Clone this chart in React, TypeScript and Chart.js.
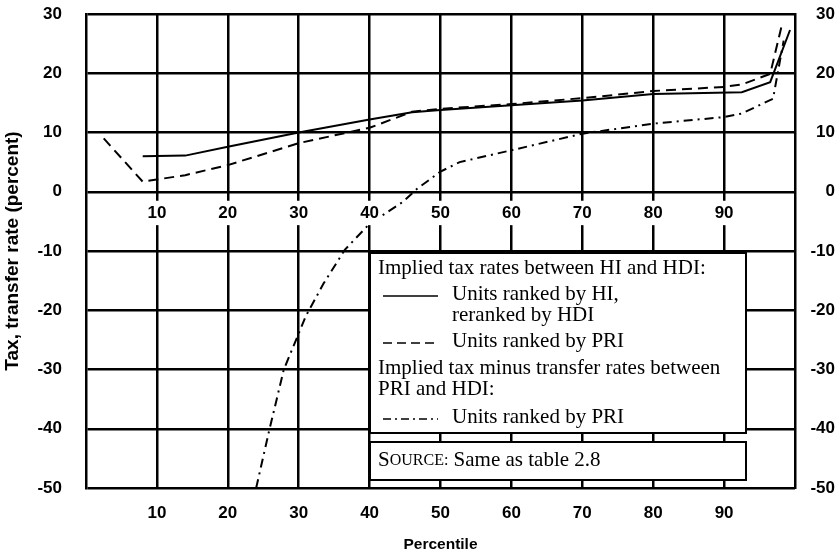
import React, { useEffect, useRef } from 'react';
import { Chart, registerables } from 'chart.js';

Chart.register(...registerables);

// ---- data ----
const hiPercentiles = [8, 14, 20, 30, 40, 46, 50, 60, 70, 80, 92.5, 96.5, 99.3];
const hiRates = [6.0, 6.1, 7.6, 10.0, 12.2, 13.4, 13.8, 14.6, 15.4, 16.5, 16.8, 18.5, 27.3];

const priPercentiles = [2.5, 8, 14, 20, 30, 40, 46, 50, 60, 70, 80, 90, 92.5, 96.5, 98.2];
const priRates = [9.0, 1.7, 2.8, 4.5, 8.2, 10.8, 13.5, 14.0, 14.8, 15.8, 17.0, 17.7, 18.1, 19.9, 28.4];

const netPercentiles = [24, 25.8, 27.9, 29.8, 31, 33.5, 36.5, 40, 44.7, 46.7, 50, 52.7, 60, 70, 80, 90, 92.5, 96.9, 98.4];
const netRates = [-50, -40.5, -30, -24.5, -21, -15.5, -9.8, -5.4, -1.7, 0.5, 3.4, 5.0, 7.0, 9.8, 11.5, 12.6, 13.2, 15.7, 25.5];

const xTickValues = [10, 20, 30, 40, 50, 60, 70, 80, 90];
const yTickValues = [-50, -40, -30, -20, -10, 0, 10, 20, 30];

const xTitle = 'Percentile';
const yTitle = 'Tax, transfer rate (percent)';

const legendHeading1 = 'Implied tax rates between HI and HDI:';
const legendHeading2 = ['Implied tax minus transfer rates between', 'PRI and HDI:'];
const hiLabel = ['Units ranked by HI,', 'reranked by HDI'];
const priLabel = ['Units ranked by PRI'];
const netLabel = ['Units ranked by PRI'];
const sourceLabel = ['S', 'OURCE:', ' Same as table 2.8'];

const toPoints = (xs: number[], ys: number[]) => xs.map((x, i) => ({ x, y: ys[i] }));

const SANS = '"Liberation Sans", Arial, sans-serif';
const SERIF = '"Liberation Serif", "Times New Roman", serif';

const legendPlugin = {
  id: 'bookLegend',
  afterDraw(chart: any) {
    const { ctx } = chart;
    const xs = chart.scales.x;
    const ys = chart.scales.y;
    const left = Math.round(xs.getPixelForValue(40));
    const right = Math.round(xs.getPixelForValue(93.1));
    const top = Math.round(ys.getPixelForValue(-10.4));
    const bottom = Math.round(ys.getPixelForValue(-40.8));
    const sTop = Math.round(ys.getPixelForValue(-42.2));
    const sBottom = Math.round(ys.getPixelForValue(-48.6));

    ctx.save();
    ctx.lineWidth = 2;
    ctx.strokeStyle = '#000';
    ctx.fillStyle = '#fff';
    ctx.fillRect(left, top, right - left, bottom - top);
    ctx.strokeRect(left, top, right - left, bottom - top);
    ctx.fillRect(left, sTop, right - left, sBottom - sTop);
    ctx.strokeRect(left, sTop, right - left, sBottom - sTop);

    ctx.fillStyle = '#000';
    ctx.textBaseline = 'middle';
    ctx.textAlign = 'left';
    ctx.font = `21px ${SERIF}`;
    const tx = left + 8;
    const ix = left + 82;
    ctx.fillText(legendHeading1, tx, top + 15);
    ctx.fillText(hiLabel[0], ix, top + 41);
    ctx.fillText(hiLabel[1], ix, top + 62);
    ctx.fillText(priLabel[0], ix, top + 88);
    ctx.fillText(legendHeading2[0], tx, top + 115);
    ctx.fillText(legendHeading2[1], tx, top + 136);
    ctx.fillText(netLabel[0], ix, top + 164);

    const sample = (y: number, dash: number[]) => {
      ctx.beginPath();
      ctx.setLineDash(dash);
      ctx.lineWidth = 1.5;
      ctx.moveTo(left + 13, y);
      ctx.lineTo(left + 68, y);
      ctx.stroke();
    };
    sample(top + 43, []);
    sample(top + 90, [9, 5]);
    sample(top + 166, [8, 4, 2, 4]);
    ctx.setLineDash([]);

    // source line with small caps
    const sy = sTop + 18;
    let x = tx;
    ctx.font = `21px ${SERIF}`;
    ctx.fillText(sourceLabel[0], x, sy);
    x += ctx.measureText(sourceLabel[0]).width;
    ctx.font = `16px ${SERIF}`;
    ctx.fillText(sourceLabel[1], x, sy + 1);
    x += ctx.measureText(sourceLabel[1]).width;
    ctx.font = `21px ${SERIF}`;
    ctx.fillText(sourceLabel[2], x, sy);
    ctx.restore();
  },
};

const noPad = (s: any) => {
  s.paddingTop = 0;
  s.paddingBottom = 0;
  s.paddingLeft = 0;
  s.paddingRight = 0;
};

export default function App() {
  const ref = useRef<HTMLCanvasElement | null>(null);

  useEffect(() => {
    if (!ref.current) return;
    const tickFont = { family: SANS, size: 17, weight: 'bold' as const };
    const setX = (scale: any) => {
      scale.ticks = xTickValues.map((v) => ({ value: v }));
    };
    const setY = (scale: any) => {
      scale.ticks = yTickValues.map((v) => ({ value: v }));
    };
    const chart = new Chart(ref.current, {
      type: 'line',
      data: {
        datasets: [
          {
            label: hiLabel.join(' '),
            data: toPoints(hiPercentiles, hiRates),
            borderColor: '#000',
            borderWidth: 2,
            pointRadius: 0,
            tension: 0,
            fill: false,
          },
          {
            label: priLabel[0],
            data: toPoints(priPercentiles, priRates),
            borderColor: '#000',
            borderWidth: 2,
            borderDash: [10, 6],
            pointRadius: 0,
            tension: 0,
            fill: false,
          },
          {
            label: netLabel[0],
            data: toPoints(netPercentiles, netRates),
            borderColor: '#000',
            borderWidth: 2,
            borderDash: [9, 5, 2, 5],
            pointRadius: 0,
            tension: 0,
            fill: false,
          },
        ],
      },
      options: {
        animation: false,
        responsive: false,
        maintainAspectRatio: false,
        layout: { autoPadding: false, padding: { top: 14, right: 5, left: 0, bottom: 0 } },
        plugins: {
          legend: { display: false },
          tooltip: { enabled: false },
        },
        scales: {
          x: {
            type: 'linear',
            position: 'bottom',
            min: 0,
            max: 100,
            afterBuildTicks: setX,
            afterFit: (s: any) => {
              s.height = 67;
              noPad(s);
            },
            grid: { color: '#000', lineWidth: 2.5, drawTicks: false },
            border: { display: false },
            ticks: {
              font: tickFont,
              color: '#000',
              padding: 15,
              maxRotation: 0,
              autoSkip: false,
            },
            title: {
              display: true,
              text: xTitle,
              color: '#000',
              font: { family: SANS, size: 15.5, weight: 'bold' },
              padding: { top: 0, bottom: 1 },
            },
          },
          xMid: {
            type: 'linear',
            position: { y: 0 } as any,
            min: 0,
            max: 100,
            afterBuildTicks: setX,
            afterFit: (s: any) => {
              s.height = 0;
              noPad(s);
            },
            grid: { display: false, drawTicks: false },
            border: { display: false },
            ticks: {
              font: tickFont,
              color: '#000',
              padding: 11,
              maxRotation: 0,
              autoSkip: false,
              showLabelBackdrop: true,
              backdropColor: '#fff',
              backdropPadding: { top: 2, bottom: 2, left: 3, right: 3 },
              z: 1,
            } as any,
          },
          y: {
            type: 'linear',
            position: 'left',
            min: -50,
            max: 30,
            afterBuildTicks: setY,
            afterFit: (s: any) => {
              s.width = 86;
              noPad(s);
            },
            grid: { color: '#000', lineWidth: 2.5, drawTicks: false },
            border: { display: true, color: '#000', width: 2.5 },
            ticks: { font: tickFont, color: '#000', padding: 24, autoSkip: false },
            title: {
              display: true,
              text: yTitle,
              color: '#000',
              font: { family: SANS, size: 19, weight: 'bold' },
              padding: { top: 1, bottom: 0 },
            },
          },
          y2: {
            type: 'linear',
            position: 'right',
            min: -50,
            max: 30,
            afterBuildTicks: setY,
            afterFit: (s: any) => {
              s.width = 40;
              noPad(s);
            },
            grid: { display: false, drawTicks: false },
            border: { display: true, color: '#000', width: 2.5 },
            ticks: {
              font: tickFont,
              color: '#000',
              padding: 10,
              crossAlign: 'far',
              autoSkip: false,
            },
          },
        },
      },
      plugins: [legendPlugin],
    });
    return () => chart.destroy();
  }, []);

  return (
    <div style={{ position: 'fixed', left: 0, top: 0, width: 840, height: 555, background: '#fff' }}>
      <canvas ref={ref} width={840} height={555} style={{ display: 'block', width: 840, height: 555 }} />
    </div>
  );
}
